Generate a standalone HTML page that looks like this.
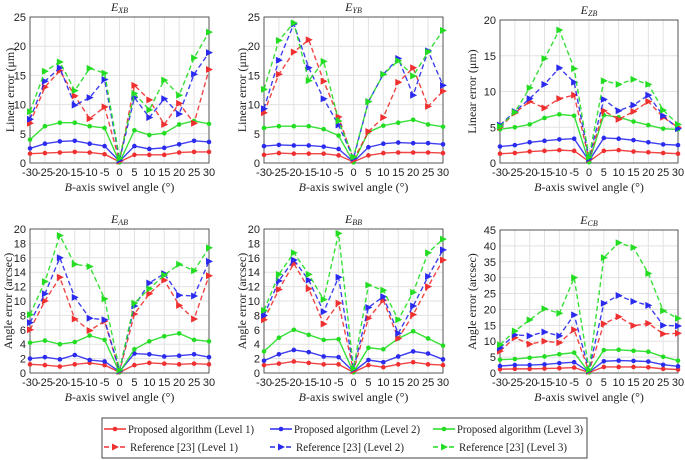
<!DOCTYPE html>
<html><head><meta charset="utf-8"><style>
body{margin:0;background:#fff;width:685px;height:460px;overflow:hidden}
svg{display:block}
.tk{font-family:"Liberation Sans",sans-serif;font-size:11px;fill:#222}
.sf{font-family:"Liberation Serif",serif;fill:#222}
</style></head><body>
<svg id="c" width="685" height="460"></svg>
<script>
const categories=[-30,-25,-20,-15,-10,-5,0,5,10,15,20,25,30];
const seriesNames=["Proposed algorithm (Level 1)","Proposed algorithm (Level 2)","Proposed algorithm (Level 3)","Reference [23]  (Level 1)","Reference [23]  (Level 2)","Reference [23]  (Level 3)"];
const xbP1=[1.6,1.7,1.8,1.9,1.8,1.5,0.2,1.4,1.4,1.4,1.8,1.9,1.9];
const xbP2=[2.5,3.3,3.7,3.8,3.3,2.9,0.3,2.9,2.4,2.6,3.2,3.8,3.6];
const xbP3=[4.0,6.3,6.9,6.9,6.3,6.0,0.1,5.6,4.8,5.1,6.6,7.2,6.7];
const xbR1=[6.8,13.0,15.8,11.5,7.6,9.6,0.3,13.3,10.8,6.6,10.2,6.8,16.0];
const xbR2=[7.5,14.0,16.3,9.9,11.2,14.3,0.5,11.2,7.8,11.0,8.4,15.2,18.9];
const xbR3=[8.8,15.7,17.3,12.4,16.2,15.4,0.8,11.9,9.1,14.2,11.6,18.0,22.4];
const ybP1=[1.4,1.7,1.6,1.6,1.6,1.3,0.2,1.3,1.7,1.8,1.8,1.8,1.7];
const ybP2=[2.9,3.1,3.0,3.0,2.8,2.4,0.2,2.7,3.3,3.5,3.4,3.4,3.2];
const ybP3=[6.0,6.3,6.3,6.3,5.8,4.7,0.1,5.3,6.4,6.9,7.4,6.6,6.2];
const ybR1=[8.6,15.2,19.0,21.1,14.0,7.9,0.5,5.4,7.8,13.8,16.3,9.7,12.3];
const ybR2=[9.3,17.6,23.8,16.3,11.0,6.5,0.8,10.5,15.2,17.9,11.6,19.2,13.3];
const ybR3=[12.6,21.0,24.0,14.1,17.4,7.2,1.0,10.5,15.2,17.5,14.9,19.0,22.7];
const zbP1=[1.3,1.4,1.6,1.7,1.8,1.7,0.2,1.7,1.8,1.6,1.5,1.4,1.3];
const zbP2=[2.3,2.5,2.9,3.1,3.3,3.4,0.3,3.5,3.4,3.2,2.9,2.6,2.5];
const zbP3=[4.7,5.0,5.4,6.3,6.8,6.6,0.1,6.7,6.4,5.8,5.3,4.8,4.7];
const zbR1=[5.0,7.0,8.6,7.7,9.0,9.5,0.5,7.3,6.1,7.2,8.6,6.4,5.0];
const zbR2=[5.3,7.2,9.0,11.0,13.3,11.3,0.6,8.9,7.3,8.1,9.5,6.6,4.8];
const zbR3=[5.1,7.1,10.5,14.6,18.6,13.2,0.8,11.5,11.0,11.7,11.0,7.4,5.4];
const abP1=[1.2,1.1,0.9,1.2,1.4,1.1,0.1,1.1,1.4,1.3,1.2,1.3,1.2];
const abP2=[2.0,2.2,1.9,2.5,1.8,1.6,0.2,2.7,2.6,2.3,2.4,2.6,2.2];
const abP3=[4.2,4.5,4.0,4.3,5.2,4.6,0.1,3.3,4.4,5.1,5.5,4.6,4.4];
const abR1=[6.0,10.0,13.3,7.5,5.9,7.2,0.2,8.2,11.0,12.9,9.4,7.5,13.5];
const abR2=[7.0,11.0,16.0,10.5,7.6,7.4,0.3,9.3,12.5,13.8,10.8,10.7,15.5];
const abR3=[8.1,12.7,19.1,15.1,14.8,10.3,0.4,9.7,11.7,13.6,15.1,14.2,17.4];
const bbP1=[1.1,1.3,1.6,1.4,1.2,1.2,0.1,1.1,0.8,1.2,1.5,1.2,1.1];
const bbP2=[1.7,2.6,3.2,2.9,2.3,2.2,0.2,1.8,1.5,2.3,3.0,2.7,1.9];
const bbP3=[3.0,4.9,6.0,5.3,4.6,4.7,0.1,3.5,3.3,4.8,5.8,4.8,3.8];
const bbR1=[7.4,11.6,15.2,11.7,6.8,9.7,0.3,7.6,10.1,4.8,8.1,12.0,15.7];
const bbR2=[8.0,12.8,15.7,12.9,8.5,13.3,0.5,9.1,10.6,5.5,9.3,13.4,17.1];
const bbR3=[8.7,13.7,16.7,13.7,10.2,19.4,0.6,12.2,11.5,7.4,11.2,16.7,18.6];
const cbP1=[1.2,1.3,1.3,1.4,1.5,1.7,0.2,1.9,1.9,1.9,1.8,1.3,1.1];
const cbP2=[2.2,2.5,2.5,2.7,3.1,3.4,0.3,3.7,3.9,3.8,3.6,2.6,2.1];
const cbP3=[4.2,4.4,4.8,5.2,5.9,6.4,0.2,7.2,7.3,7.0,6.7,5.1,3.9];
const cbR1=[6.9,11.1,9.1,10.0,9.5,13.6,0.5,15.5,17.7,14.9,15.6,12.3,12.5];
const cbR2=[7.9,12.0,11.7,12.9,11.7,18.3,0.8,21.9,24.4,22.5,21.3,15.0,14.8];
const cbR3=[8.9,13.2,16.7,20.2,18.8,30.0,1.0,36.3,41.0,39.5,31.3,19.6,17.2];
const ticksLinear25=[0,5,10,15,20,25];
const ticksLinear20=[0,5,10,15,20];
const ticksAngle20=[0,2,4,6,8,10,12,14,16,18,20];
const ticksAngle45=[0,5,10,15,20,25,30,35,40,45];

const NS="http://www.w3.org/2000/svg";
const svg=document.getElementById('c');
const colors=["#f03030","#2a2af0","#22dd22"];
function mk(tag,attrs,parent){const e=document.createElementNS(NS,tag);for(const k in attrs)e.setAttribute(k,attrs[k]);(parent||svg).appendChild(e);return e;}

const panels=[
 {id:"xb",sub:"XB",x0:30,x1:209,yt:17,yb:163,ticks:ticksLinear25,yl:"Linear error (μm)",lx:10,data:[xbP1,xbP2,xbP3,xbR1,xbR2,xbR3]},
 {id:"yb",sub:"YB",x0:264,x1:443,yt:17,yb:163,ticks:ticksLinear25,yl:"Linear error (μm)",lx:242,data:[ybP1,ybP2,ybP3,ybR1,ybR2,ybR3]},
 {id:"zb",sub:"ZB",x0:500,x1:678,yt:20,yb:163,ticks:ticksLinear20,yl:"Linear error (μm)",lx:472,data:[zbP1,zbP2,zbP3,zbR1,zbR2,zbR3]},
 {id:"ab",sub:"AB",x0:30,x1:209,yt:229,yb:373,ticks:ticksAngle20,yl:"Angle error (arcsec)",lx:8,data:[abP1,abP2,abP3,abR1,abR2,abR3]},
 {id:"bb",sub:"BB",x0:264,x1:443,yt:229,yb:373,ticks:ticksAngle20,yl:"Angle error (arcsec)",lx:242,data:[bbP1,bbP2,bbP3,bbR1,bbR2,bbR3]},
 {id:"cb",sub:"CB",x0:500,x1:678,yt:230,yb:373,ticks:ticksAngle45,yl:"Angle error (arcsec)",lx:472,data:[cbP1,cbP2,cbP3,cbR1,cbR2,cbR3]}
];

function tri(g,x,y,c){const p=mk('polygon',{points:`${x-3},${y-3.5} ${x+4},${y} ${x-3},${y+3.5}`,fill:c},g);}

panels.forEach(P=>{
 const g=mk('g',{});
 
 
 const ymax=P.ticks[P.ticks.length-1];
 const xs=v=>P.x0+(v-categories[0])/(categories[categories.length-1]-categories[0])*(P.x1-P.x0);
 const ys=v=>P.yb-v/ymax*(P.yb-P.yt);
 categories.forEach(c=>{const l=mk('line',{x1:xs(c),x2:xs(c),y1:P.yt,y2:P.yb,stroke:"#e2e2e2","stroke-width":1},g);});
 P.ticks.forEach(t=>{const l=mk('line',{x1:P.x0,x2:P.x1,y1:ys(t),y2:ys(t),stroke:"#e2e2e2","stroke-width":1},g);});
 const fr=mk('rect',{x:P.x0,y:P.yt,width:P.x1-P.x0,height:P.yb-P.yt,fill:"none",stroke:"#333","stroke-width":0.8},g);
 
 categories.forEach(c=>{const t=mk('text',{x:xs(c),y:P.yb+13,"text-anchor":"middle",class:"tk"},g);t.textContent=c;});
 P.ticks.forEach(v=>{const t=mk('text',{x:P.x0-4,y:ys(v)+4,"text-anchor":"end",class:"tk"},g);t.textContent=v;});
 const ti=mk('text',{x:(P.x0+P.x1)/2,y:P.yt-6,"text-anchor":"middle",class:"sf","font-size":"12","font-style":"italic"},g);
 ti.innerHTML='E<tspan font-size="8" dy="2">'+P.sub+'</tspan>';
 
 const xl=mk('text',{x:(P.x0+P.x1)/2,y:P.yb+28,"text-anchor":"middle",class:"sf","font-size":"12"},g);
 xl.innerHTML='<tspan font-style="italic">B</tspan>-axis swivel angle (°)';
 
 const cy=(P.yt+P.yb)/2;
 const yl=mk('text',{x:P.lx,y:cy,"text-anchor":"middle",class:"sf","font-size":"12",transform:`rotate(-90 ${P.lx} ${cy})`,dy:"4"},g);
 yl.textContent=P.yl;
 P.data.forEach((arr,si)=>{
  const c=colors[si%3];const dashed=si>=3;
  const sg=mk('g',{},g);
  
  
  const pts=arr.map((v,i)=>xs(categories[i])+","+ys(v)).join(" ");
  const pl=mk('polyline',{points:pts,fill:"none",stroke:c,"stroke-width":1.4,"stroke-dasharray":dashed?"5,3":"none","stroke-opacity":0.9},sg);
  
  arr.forEach((v,i)=>{
   if(dashed)tri(sg,xs(categories[i]),ys(v),c);
   else{const m=mk('circle',{cx:xs(categories[i]),cy:ys(v),r:2.3,fill:c},sg);}
  });
 });
});

const lg=mk('g',{});


const lr=mk('rect',{x:102,y:418,width:485,height:40,fill:"#fff",stroke:"#444","stroke-width":1},lg);

const colX=[104,270,433];
seriesNames.forEach((n,i)=>{
 const x=colX[i%3],y=i<3?429:447,c=colors[i%3],d=i>=3;
 const eg=mk('g',{},lg);
 
 
 mk('line',{x1:x,x2:x+22,y1:y,y2:y,stroke:c,"stroke-width":1.4,"stroke-dasharray":d?"5,3":"none"},eg);
 if(d)tri(eg,x+11,y,c);else mk('circle',{cx:x+11,cy:y,r:2.3,fill:c},eg);
 const t=mk('text',{x:x+(d?26:24),y:y+4,"font-family":"Liberation Serif, serif","font-size":"11.5",fill:"#222",textLength:d?108:126,lengthAdjust:"spacingAndGlyphs"},eg);t.textContent=n;
});
</script>
</body></html>
